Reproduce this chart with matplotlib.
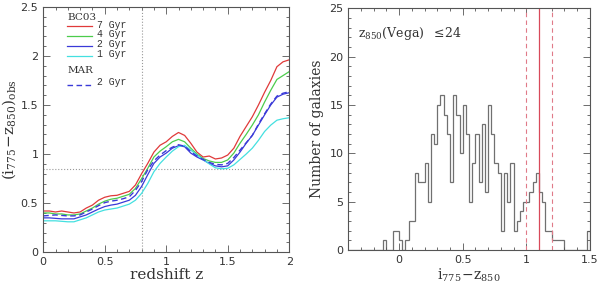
import numpy as np
import matplotlib
matplotlib.use("Agg")
import matplotlib.pyplot as plt
from matplotlib.ticker import MultipleLocator

plt.rcParams['font.family'] = ['DejaVu Sans']
plt.rcParams['mathtext.fontset'] = 'dejavuserif'

# ---------------- Left panel data ----------------
z = [0.0, 0.05, 0.1, 0.15, 0.2, 0.25, 0.3, 0.35, 0.4, 0.45, 0.5, 0.55, 0.6, 0.65,
     0.7, 0.75, 0.8, 0.85, 0.9, 0.95, 1.0, 1.05, 1.1, 1.15, 1.2, 1.25, 1.3, 1.35,
     1.4, 1.45, 1.5, 1.55, 1.6, 1.65, 1.7, 1.75, 1.8, 1.85, 1.9, 1.95, 2.0]

bc03_7gyr = [0.42, 0.42, 0.41, 0.42, 0.41, 0.40, 0.41, 0.45, 0.48, 0.53, 0.56, 0.575, 0.58, 0.60,
             0.62, 0.685, 0.80, 0.905, 1.02, 1.09, 1.125, 1.18, 1.22, 1.19, 1.11, 1.02, 0.97, 0.98,
             0.95, 0.96, 0.99, 1.06, 1.18, 1.28, 1.38, 1.50, 1.63, 1.75, 1.89, 1.94, 1.96]
bc03_4gyr = [0.40, 0.40, 0.39, 0.39, 0.38, 0.38, 0.39, 0.42, 0.45, 0.49, 0.52, 0.54, 0.55, 0.57,
             0.59, 0.65, 0.75, 0.855, 0.97, 1.03, 1.075, 1.125, 1.15, 1.125, 1.06, 1.00, 0.955, 0.93,
             0.915, 0.915, 0.94, 1.01, 1.11, 1.20, 1.295, 1.40, 1.53, 1.65, 1.76, 1.80, 1.84]
bc03_2gyr = [0.35, 0.35, 0.345, 0.34, 0.34, 0.34, 0.36, 0.38, 0.41, 0.44, 0.465, 0.48, 0.49, 0.51,
             0.53, 0.58, 0.67, 0.79, 0.905, 0.97, 1.01, 1.06, 1.085, 1.075, 1.01, 0.97, 0.94, 0.905,
             0.88, 0.87, 0.88, 0.94, 1.02, 1.11, 1.19, 1.295, 1.40, 1.50, 1.58, 1.61, 1.625]
bc03_1gyr = [0.32, 0.32, 0.32, 0.315, 0.31, 0.31, 0.33, 0.35, 0.38, 0.41, 0.43, 0.44, 0.45, 0.47,
             0.49, 0.53, 0.60, 0.70, 0.82, 0.905, 0.97, 1.03, 1.075, 1.09, 1.04, 0.99, 0.945, 0.90,
             0.86, 0.85, 0.855, 0.89, 0.945, 1.00, 1.06, 1.14, 1.23, 1.295, 1.345, 1.36, 1.37]
mar_2gyr = [0.37, 0.375, 0.38, 0.375, 0.37, 0.37, 0.38, 0.41, 0.44, 0.475, 0.505, 0.52, 0.53, 0.545,
            0.565, 0.63, 0.72, 0.84, 0.93, 0.99, 1.035, 1.07, 1.095, 1.08, 1.025, 0.98, 0.945, 0.915,
            0.895, 0.89, 0.905, 0.965, 1.04, 1.115, 1.19, 1.305, 1.41, 1.51, 1.59, 1.62, 1.635]

bc03_labels = ['7 Gyr', '4 Gyr', '2 Gyr', '1 Gyr']
mar_labels = ['2 Gyr']
z_cut = 0.8
color_cut = 0.85

# ---------------- Right panel data ----------------
bin_start = -0.4
bin_width = 0.025
counts = [0, 0, 0, 0, 0, 0, 0, 0, 0, 0, 0,
          1, 0, 0, 2, 2,
          1, 0, 1, 3, 3, 8, 7, 7, 9, 5, 12, 11, 15, 16, 14, 12, 7,
          16, 14, 10, 15, 12, 5, 9, 12, 7, 13, 6, 15, 12, 9, 8, 2, 8, 5, 9, 2, 3, 4, 5,
          5, 6, 7, 8, 6, 5, 2, 2, 1, 1, 1, 1,
          0, 0, 0, 0, 0, 0, 0,
          2]
red_center = 1.1
red_lo = 1.0
red_hi = 1.2

edges = bin_start + bin_width * np.arange(len(counts) + 1)

# ---------------- Figure ----------------
fig = plt.figure(figsize=(6.0, 2.85), dpi=100)
axL = fig.add_axes([0.072, 0.115, 0.410, 0.861])
axR = fig.add_axes([0.5805, 0.123, 0.4025, 0.848])

frame_col = '#555555'
for ax in (axL, axR):
    for s in ax.spines.values():
        s.set_color(frame_col)
        s.set_linewidth(0.8)
    ax.tick_params(which='both', direction='in', top=True, right=True,
                   colors=frame_col, labelcolor='#333333', labelsize=8, width=0.6)
    ax.tick_params(which='major', length=5)
    ax.tick_params(which='minor', length=2.5)

# Left
cols = ['#e03a3a', '#4ccc4c', '#3a3ad8', '#44e0e0']
series = [bc03_7gyr, bc03_4gyr, bc03_2gyr, bc03_1gyr]
axL.axvline(z_cut, color='#999999', ls=':', lw=0.8)
axL.axhline(color_cut, color='#999999', ls=':', lw=0.8)
for s, c in zip(series, cols):
    axL.plot(z, s, color=c, lw=0.9)
axL.plot(z, mar_2gyr, color='#3a3ad8', lw=1.0, ls=(0, (4, 2.5)))

axL.set_xlim(0, 2)
axL.set_ylim(0, 2.5)
axL.xaxis.set_minor_locator(MultipleLocator(0.1))
axL.yaxis.set_minor_locator(MultipleLocator(0.1))
axL.set_xticks([0, 0.5, 1, 1.5, 2])
axL.set_xticklabels(['0', '0.5', '1', '1.5', '2'])
axL.set_yticks([0, 0.5, 1, 1.5, 2, 2.5])
axL.set_yticklabels(['0', '0.5', '1', '1.5', '2', '2.5'])
axL.set_xlabel('redshift z', family='DejaVu Serif', fontsize=11, color='#333333', labelpad=1)
axL.set_ylabel(r'$(\mathrm{i}_{775}\!-\!\mathrm{z}_{850})_{\mathrm{obs}}$',
               fontsize=11, color='#333333', labelpad=2)

# legend (manual)
tf = dict(family='Liberation Mono', fontsize=7, color='#333333', va='center')
axL.text(0.195, 2.39, 'BC03', family='DejaVu Serif', fontsize=7.5, color='#333333', va='center')
ly = [2.30, 2.20, 2.10, 2.00]
for yv, c, lab in zip(ly, cols, bc03_labels):
    axL.plot([0.195, 0.40], [yv, yv], color=c, lw=0.9)
    axL.text(0.44, yv + 0.02, lab, **tf)
axL.text(0.195, 1.85, 'MAR', family='DejaVu Serif', fontsize=7.5, color='#333333', va='center')
axL.plot([0.195, 0.40], [1.70, 1.70], color='#3a3ad8', lw=1.0, ls=(0, (4, 2.5)))
axL.text(0.44, 1.73, mar_labels[0], **tf)

# Right
axR.stairs(counts, edges, color='#707070', lw=0.9)
axR.axvline(red_center, color='#d84a5a', lw=0.9)
axR.axvline(red_lo, color='#e07a88', lw=0.8, ls=(0, (4, 3)))
axR.axvline(red_hi, color='#e07a88', lw=0.8, ls=(0, (4, 3)))
axR.set_xlim(-0.4, 1.5)
axR.set_ylim(0, 25)
axR.xaxis.set_minor_locator(MultipleLocator(0.1))
axR.yaxis.set_minor_locator(MultipleLocator(1))
axR.set_xticks([0, 0.5, 1, 1.5])
axR.set_xticklabels(['0', '0.5', '1', '1.5'])
axR.set_yticks([0, 5, 10, 15, 20, 25])
axR.set_xlabel(r'$\mathrm{i}_{775}\!-\!\mathrm{z}_{850}$', fontsize=10, color='#333333', labelpad=1)
axR.set_ylabel('Number of galaxies', family='DejaVu Serif', fontsize=10, color='#333333', labelpad=4)
axR.text(-0.32, 22.4, r'$\mathrm{z}_{850}\mathrm{(Vega)}\ \ \leq\!24$', fontsize=9,
         color='#333333', va='center')

fig.savefig('out.png', dpi=100)
